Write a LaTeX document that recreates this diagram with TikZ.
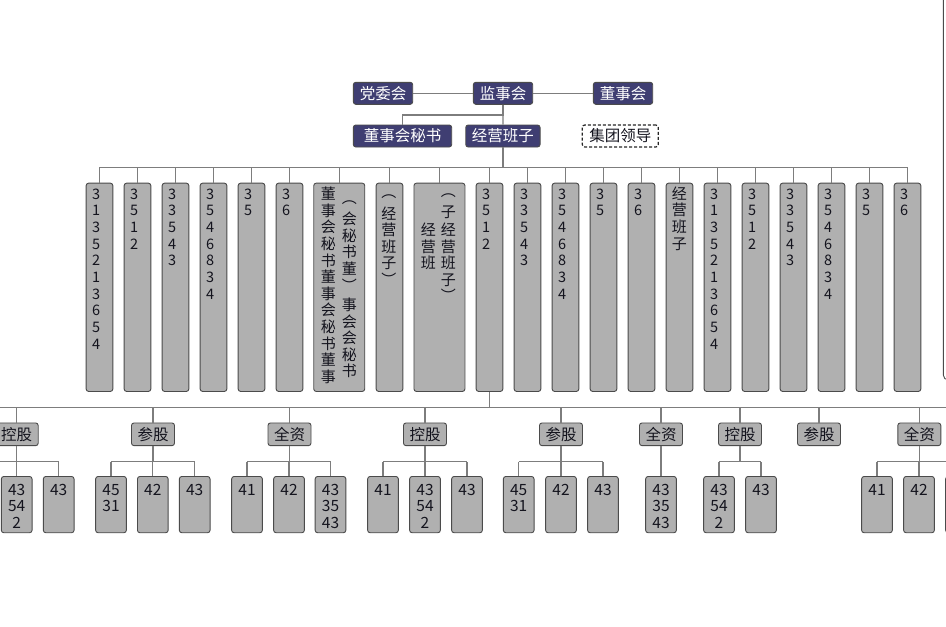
\documentclass[tikz,border=0pt]{standalone}
\usepackage{fontspec}
\newfontfamily\cjk{Noto Sans CJK SC}
\definecolor{topfill}{RGB}{63,62,114}
\definecolor{boxfill}{RGB}{176,176,176}
\definecolor{boxline}{RGB}{75,75,75}
\definecolor{conn}{RGB}{125,125,125}
\definecolor{txt}{RGB}{20,20,30}
\tikzset{
  topbox/.style={draw=boxline, fill=topfill, rounded corners=2.5pt, text=white, inner sep=0pt,
    font=\cjk\fontsize{15.5}{18}\selectfont, minimum height=22pt, line width=0.9pt},
  dashbox/.style={draw=black!85, dashed, dash pattern=on 3pt off 2pt, fill=white, rounded corners=2.5pt, text=txt, inner sep=0pt,
    font=\cjk\fontsize{15.5}{18}\selectfont, minimum height=22pt, line width=1.2pt},
  colbox/.style={draw=boxline, fill=boxfill, rounded corners=2.5pt, inner sep=0pt, line width=0.9pt,
    minimum height=208.3pt, anchor=north west},
  digit/.style={inner sep=0pt, text=txt, font=\cjk\fontsize{14.5}{16.7}\selectfont, anchor=base},
  hanzi/.style={inner sep=0pt, text=txt, font=\cjk\fontsize{15}{16.7}\selectfont, anchor=center},
  midbox/.style={draw=boxline, fill=boxfill, rounded corners=2.5pt, inner sep=0pt, line width=0.9pt,
    minimum width=43pt, minimum height=22.7pt, text=txt, font=\cjk\fontsize{15.5}{18}\selectfont},
  leafbox/.style={draw=boxline, fill=boxfill, rounded corners=2.5pt, inner sep=0pt, line width=0.9pt,
    minimum width=30.7pt, minimum height=56.3pt, anchor=north},
  leaftext/.style={inner sep=0pt, text=txt, font=\cjk\fontsize{15.5}{16.7}\selectfont, anchor=base},
  conn/.style={draw=conn, line width=1.3pt},
}
\newcommand\digcol[4]{%
  \node[colbox, minimum width=26.7pt] (#1) at (#2,182.7) {};
  \draw[conn] (#1.north) -- (#1.north |- bus);
  \foreach \d [count=\i] in {#4} \node[digit] (#1-\i) at (#3, 199+16.7*\i-16.7) {\d};}
\newcommand\leafnode[3]{%
  \node[leafbox] (#1) at (#2,476) {};
  \draw[conn] (#1.north) -- (#1.north |- sub);
  \foreach \t [count=\i] in {#3} \node[leaftext] (#1-\i) at (#2, 495+16.7*\i-16.7) {\t};}
\begin{document}
\begin{tikzpicture}[x=1pt, y=-1pt]
\useasboundingbox (0,0) rectangle (946,627);
\clip (0,0) rectangle (946,627);
\fill[white] (0,0) rectangle (946,627);
\coordinate (bus) at (0,167.3);
\coordinate (bus2) at (0,407.7);
\coordinate (sub) at (0,461.7);
\coordinate (busL) at (-5,407.7);
\coordinate (busR) at (955,407.7);
\coordinate (subL) at (-5,461.7);

% right frame
\draw[boxline, line width=0.9pt] (943.3,-3) -- (943.3,375) arc[start angle=180, end angle=90, radius=5] -- (952,380);

% top level
\node[topbox, minimum width=59.4pt] (dwh) at (383,93.3) {党委会};
\node[topbox, minimum width=59.4pt] (jsh) at (503,93.3) {监事会};
\node[topbox, minimum width=59.4pt] (dsh) at (623,93.3) {董事会};
\node[topbox, minimum width=98.4pt] (dms) at (402.5,136) {董事会秘书};
\node[topbox, minimum width=74.3pt] (jyb) at (502.9,136) {经营班子};
\node[dashbox, minimum width=76pt] (jtl) at (620.3,136) {集团领导};
\coordinate (elb) at (503,115);
\draw[conn] (jsh.west) -- (dwh.east);
\draw[conn] (jsh.east) -- (dsh.west);
\draw[conn] (jsh.south) -- (elb) -| (dms.north);
\draw[conn] (jsh.south) -- (jyb.north);
\draw[conn] (jyb.south) -- (jyb.south |- bus);

% column boxes
\digcol{c1}{85.7}{96.2}{3,1,3,5,2,1,3,6,5,4}
\digcol{c2}{123.7}{134.2}{3,5,1,2}
\digcol{c3}{161.7}{172.2}{3,3,5,4,3}
\digcol{c4}{199.7}{210.2}{3,5,4,6,8,3,4}
\digcol{c5}{237.7}{248.2}{3,5}
\digcol{c6}{275.7}{286.2}{3,6}
\node[colbox, minimum width=51pt] (c7) at (313.3,182.7) {};
\draw[conn] (c7.north) -- (c7.north |- bus);
\node[colbox, minimum width=26.7pt] (c8) at (375.7,182.7) {};
\draw[conn] (c8.north) -- (c8.north |- bus);
\node[colbox, minimum width=51pt] (c9) at (413.5,182.7) {};
\draw[conn] (c9.north) -- (c9.north |- bus);
\digcol{c10}{475.7}{486.2}{3,5,1,2}
\digcol{c11}{513.7}{524.2}{3,3,5,4,3}
\digcol{c12}{551.7}{562.2}{3,5,4,6,8,3,4}
\digcol{c13}{589.7}{600.2}{3,5}
\digcol{c14}{627.7}{638.2}{3,6}
\node[colbox, minimum width=26.7pt] (c15) at (665.7,182.7) {};
\draw[conn] (c15.north) -- (c15.north |- bus);
\digcol{c16}{703.7}{714.2}{3,1,3,5,2,1,3,6,5,4}
\digcol{c17}{741.7}{752.2}{3,5,1,2}
\digcol{c18}{779.7}{790.2}{3,3,5,4,3}
\digcol{c19}{817.7}{828.2}{3,5,4,6,8,3,4}
\digcol{c20}{855.7}{866.2}{3,5}
\digcol{c21}{893.7}{904.2}{3,6}
\draw[conn] (c1.north |- bus) -- (c21.north |- bus);

% vertical hanzi text
\foreach \c [count=\i] in {董,事,会,秘,书,董,事,会,秘,书,董,事}
  \node[hanzi] (c7l-\i) at (328.3, 194+16.6*\i-16.6) {\c};
\foreach \c/\y [count=\i] in {︵/203, 会/219, 秘/235.5, 书/252, 董/268.5, ︶/285, 事/305, 会/321.5, 会/338, 秘/354.5, 书/371}
  \node[hanzi] (c7r-\i) at (349.3, \y) {\c};
\foreach \c/\y [count=\i] in {︵/196.5, 经/213.3, 营/230, 班/246.7, 子/263.3, ︶/279}
  \node[hanzi] (c8t-\i) at (388.8, \y) {\c};
\foreach \c/\y [count=\i] in {︵/196, 子/212, 经/230, 营/246.7, 班/263.3, 子/280, ︶/295.5}
  \node[hanzi] (c9r-\i) at (448.3, \y) {\c};
\foreach \c/\y [count=\i] in {经/230, 营/246.7, 班/263.3}
  \node[hanzi] (c9l-\i) at (428.3, \y) {\c};
\foreach \c/\y [count=\i] in {经/193.3, 营/210, 班/227.2, 子/244.2}
  \node[hanzi] (c15t-\i) at (679.3, \y) {\c};

% lower tree
\draw[conn] (c10.south) -- (c10.south |- bus2);
\draw[conn] (busL) -- (busR);

\node[midbox] (m1) at (16.7,434.3) {控股};
\node[midbox] (m2) at (153,434.3) {参股};
\node[midbox] (m3) at (289.5,434.3) {全资};
\node[midbox] (m4) at (425,434.3) {控股};
\node[midbox] (m5) at (561,434.3) {参股};
\node[midbox] (m6) at (661,434.3) {全资};
\node[midbox] (m7) at (740,434.3) {控股};
\node[midbox] (m8) at (819,434.3) {参股};
\node[midbox] (m9) at (919.3,434.3) {全资};
\foreach \m in {m1,m2,m3,m4,m5,m6,m7,m8,m9}
  \draw[conn] (\m.north) -- (\m.north |- bus2);
\foreach \m in {m1,m2,m3,m4,m5,m6,m7,m9}
  \draw[conn] (\m.south) -- (\m.south |- sub);

\leafnode{l1b}{16.7}{43,54,2}
\leafnode{l1c}{58.7}{43}
\draw[conn] (subL) -- (l1c.north |- sub);
\leafnode{l2a}{111}{45,31}
\leafnode{l2b}{152.8}{42}
\leafnode{l2c}{194.7}{43}
\draw[conn] (l2a.north |- sub) -- (l2c.north |- sub);
\leafnode{l3a}{247}{41}
\leafnode{l3b}{289}{42}
\leafnode{l3c}{330.5}{43,35,43}
\draw[conn] (l3a.north |- sub) -- (l3c.north |- sub);
\leafnode{l4a}{383}{41}
\leafnode{l4b}{425}{43,54,2}
\leafnode{l4c}{467}{43}
\draw[conn] (l4a.north |- sub) -- (l4c.north |- sub);
\leafnode{l5a}{518.7}{45,31}
\leafnode{l5b}{561}{42}
\leafnode{l5c}{603}{43}
\draw[conn] (l5a.north |- sub) -- (l5c.north |- sub);
\leafnode{l6a}{661}{43,35,43}
\leafnode{l7a}{719}{43,54,2}
\leafnode{l7b}{761}{43}
\draw[conn] (l7a.north |- sub) -- (l7b.north |- sub);
\leafnode{l9a}{877}{41}
\leafnode{l9b}{919}{42}
\node[leafbox] (l9c) at (961,476) {};
\draw[conn] (l9c.north) -- (l9c.north |- sub);
\draw[conn] (l9a.north |- sub) -- (l9c.north |- sub);
\end{tikzpicture}
\end{document}
